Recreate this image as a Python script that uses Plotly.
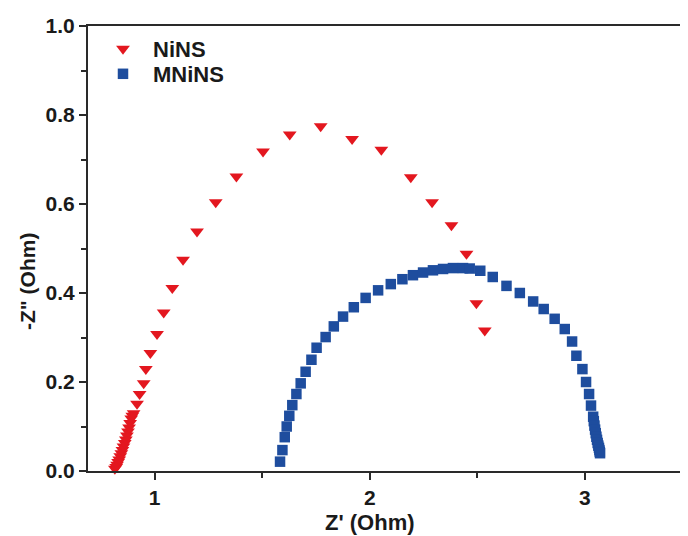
import plotly.graph_objects as go

# NiNS (red triangles)
nins_x = [0.815, 0.821, 0.825, 0.830, 0.835, 0.840, 0.845, 0.850, 0.855, 0.861, 0.866,
          0.871, 0.876, 0.881, 0.886, 0.891, 0.896, 0.902, 0.918, 0.930, 0.949, 0.959,
          0.980, 1.011, 1.042, 1.082, 1.132, 1.197, 1.284, 1.380, 1.504, 1.628, 1.772,
          1.918, 2.054, 2.191, 2.290, 2.380, 2.450, 2.496, 2.535]
nins_y = [0.005, 0.009, 0.014, 0.020, 0.026, 0.033, 0.040, 0.047, 0.055, 0.063, 0.071,
          0.080, 0.089, 0.098, 0.108, 0.118, 0.124, 0.130, 0.151, 0.173, 0.197, 0.229,
          0.265, 0.308, 0.356, 0.411, 0.475, 0.538, 0.604, 0.662, 0.718, 0.756, 0.775,
          0.746, 0.722, 0.660, 0.604, 0.552, 0.488, 0.377, 0.316]

# MNiNS (blue squares)
mnins_x = [1.583, 1.594, 1.605, 1.614, 1.626, 1.640, 1.659, 1.679, 1.702, 1.729, 1.753,
           1.795, 1.833, 1.876, 1.926, 1.981, 2.039, 2.098, 2.152, 2.201, 2.248, 2.294,
           2.341, 2.387, 2.434, 2.465, 2.514, 2.572, 2.636, 2.698, 2.760, 2.809, 2.860,
           2.907, 2.941, 2.961, 2.989, 3.006, 3.020, 3.029, 3.039, 3.042, 3.045, 3.048,
           3.051, 3.054, 3.057, 3.060, 3.063, 3.066, 3.068, 3.070, 3.071]
mnins_y = [0.021, 0.047, 0.076, 0.100, 0.124, 0.148, 0.173, 0.197, 0.223, 0.250, 0.277,
           0.301, 0.325, 0.347, 0.368, 0.389, 0.406, 0.420, 0.431, 0.440, 0.446, 0.451,
           0.454, 0.456, 0.456, 0.455, 0.450, 0.436, 0.416, 0.400, 0.381, 0.364, 0.342,
           0.319, 0.291, 0.259, 0.229, 0.200, 0.173, 0.147, 0.122, 0.112, 0.102, 0.093,
           0.085, 0.077, 0.070, 0.063, 0.057, 0.052, 0.047, 0.043, 0.040]

x_ticks = [1, 2, 3]
y_ticks = [0.0, 0.2, 0.4, 0.6, 0.8, 1.0]

RED = "#E3171F"
BLUE = "#1E4D9E"
FONT = "Liberation Sans, Arial, sans-serif"
INK = "#1a1a1a"
LINE = "#2a2a2a"

fig = go.Figure()
fig.add_trace(go.Scatter(x=nins_x, y=nins_y, mode="markers", name="<b>NiNS</b>",
                         cliponaxis=False, legend="legend",
                         marker=dict(symbol="triangle-down", size=12, color=RED)))
fig.add_trace(go.Scatter(x=mnins_x, y=mnins_y, mode="markers", name="<b>MNiNS</b>",
                         cliponaxis=False, legend="legend2",
                         marker=dict(symbol="square", size=10.5, color=BLUE)))

axis_common = dict(showgrid=False, zeroline=False, showline=True, linecolor=LINE,
                   linewidth=2, ticks="outside", tickwidth=2, tickcolor=LINE,
                   tickfont=dict(family=FONT, size=21, color=INK, weight="bold"))

fig.update_xaxes(range=[0.69, 3.48], tickvals=x_ticks, ticktext=[str(v) for v in x_ticks],
                 ticklen=7, mirror=True, ticklabelstandoff=0,
                 minor=dict(dtick=0.5, tick0=0.5, ticks="outside", ticklen=5, tickwidth=2,
                            tickcolor=LINE),
                 **axis_common)
fig.update_yaxes(range=[0, 1.0], tickvals=y_ticks, ticktext=[f"{v:.1f}" for v in y_ticks],
                 ticklen=7,
                 minor=dict(dtick=0.1, tick0=0, ticks="outside", ticklen=5, tickwidth=2,
                            tickcolor=LINE),
                 **axis_common)

# annotation positions given relative to plot area (window px: plot x 88..688, y 26..471)
fig.add_annotation(text="<b>Z' (Ohm)</b>", xref="paper", yref="paper",
                   x=(370 - 88) / 600, y=-(522 - 471) / 445, showarrow=False,
                   xanchor="center", yanchor="middle",
                   font=dict(family=FONT, size=22, color=INK))
fig.add_annotation(text="<b>-Z\" (Ohm)</b>", xref="paper", yref="paper",
                   x=-(88 - 27) / 600, y=(471 - 282) / 445, showarrow=False,
                   textangle=-90, xanchor="center", yanchor="middle",
                   font=dict(family=FONT, size=21, color=INK))

legend_style = dict(xanchor="left", yanchor="top", bgcolor="rgba(0,0,0,0)",
                    font=dict(family=FONT, size=22, color=INK), itemwidth=50,
                    tracegroupgap=0)

# page body has an 8px margin, so the figure is 8px smaller and margins shifted
fig.update_layout(
    width=680, height=528,
    margin=dict(l=80, r=0, t=18, b=65),
    paper_bgcolor="white", plot_bgcolor="white",
    showlegend=True,
    legend=dict(x=(93 - 88) / 600, y=(471 - 28) / 445, **legend_style),
    legend2=dict(x=(93 - 88) / 600, y=(471 - 53) / 445, **legend_style),
)

fig.write_html("out.html")
